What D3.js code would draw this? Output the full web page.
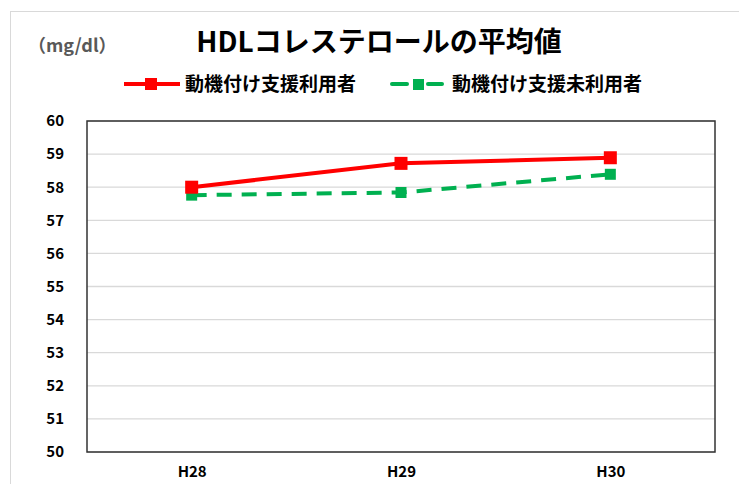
<!DOCTYPE html>
<html>
<head>
<meta charset="utf-8">
<script src="https://cdnjs.cloudflare.com/ajax/libs/d3/7.8.5/d3.min.js"></script>
<style>
  body { margin: 0; background: #fff; }
  text { font-family: "Noto Sans CJK JP", "Noto Sans", sans-serif; font-weight: bold; }
</style>
</head>
<body>
<div id="chart"></div>
<script>
// data
var years = ["H28", "H29", "H30"];
var usersValues = [58.0, 58.72, 58.89];
var nonUsersValues = [57.76, 57.84, 58.39];
var yTicks = [50, 51, 52, 53, 54, 55, 56, 57, 58, 59, 60];
var seriesNames = ["動機付け支援利用者", "動機付け支援未利用者"];

var svgWidth = 739;
var svgHeight = 484;

var margin = { top: 121, right: 24, bottom: 32, left: 87 };
var width = svgWidth - margin.left - margin.right;
var height = svgHeight - margin.top - margin.bottom;

var svg = d3.select("#chart")
  .append("svg")
  .attr("width", svgWidth)
  .attr("height", svgHeight);

// outer chart frame
svg.append("rect")
  .attr("x", 10.5).attr("y", 11.5)
  .attr("width", 760).attr("height", 500)
  .attr("fill", "none")
  .attr("stroke", "#d9d9d9");

var chartGroup = svg.append("g")
  .attr("transform", `translate(${margin.left}, ${margin.top})`);

var xScale = d3.scalePoint()
  .domain(years)
  .range([0, width])
  .padding(0.5);

var yScale = d3.scaleLinear()
  .domain([50, 60])
  .range([height, 0]);

// gridlines
chartGroup.append("g")
  .selectAll("line")
  .data(yTicks)
  .enter()
  .append("line")
  .attr("x1", 0).attr("x2", width)
  .attr("y1", d => yScale(d)).attr("y2", d => yScale(d))
  .attr("stroke", "#d9d9d9")
  .attr("stroke-width", 1.3);

// plot border
chartGroup.append("rect")
  .attr("width", width).attr("height", height)
  .attr("fill", "none")
  .attr("stroke", "#333")
  .attr("stroke-width", 1.5);

// axes
var leftAxis = d3.axisLeft(yScale).tickValues(yTicks).tickSize(0).tickPadding(23);
var bottomAxis = d3.axisBottom(xScale).tickSize(0).tickPadding(14);

var yAxisG = chartGroup.append("g").call(leftAxis);
yAxisG.select(".domain").remove();
yAxisG.selectAll("text")
  .attr("font-size", "15px")
  .attr("fill", "#000")
  .style("font-family", "'Noto Sans CJK JP', sans-serif");

var xAxisG = chartGroup.append("g")
  .attr("transform", `translate(0, ${height})`)
  .call(bottomAxis);
xAxisG.select(".domain").remove();
xAxisG.selectAll("text")
  .attr("font-size", "15px")
  .attr("fill", "#000")
  .style("font-family", "'Noto Sans CJK JP', sans-serif");

var line = d3.line()
  .x((d, i) => xScale(years[i]))
  .y(d => yScale(d));

// non-users (green dashed)
chartGroup.append("path")
  .datum(nonUsersValues)
  .attr("d", line)
  .attr("fill", "none")
  .attr("stroke", "#00b050")
  .attr("stroke-width", 4)
  .attr("stroke-dasharray", "15,10");

chartGroup.selectAll(".g-mark")
  .data(nonUsersValues)
  .enter()
  .append("rect")
  .attr("class", "g-mark")
  .attr("x", (d, i) => xScale(years[i]) - 5.5)
  .attr("y", d => yScale(d) - 5.5)
  .attr("width", 11).attr("height", 11)
  .attr("fill", "#00b050");

// users (red solid)
chartGroup.append("path")
  .datum(usersValues)
  .attr("d", line)
  .attr("fill", "none")
  .attr("stroke", "#ff0000")
  .attr("stroke-width", 4);

chartGroup.selectAll(".r-mark")
  .data(usersValues)
  .enter()
  .append("rect")
  .attr("class", "r-mark")
  .attr("x", (d, i) => xScale(years[i]) - 6.5)
  .attr("y", d => yScale(d) - 6.5)
  .attr("width", 13).attr("height", 13)
  .attr("fill", "#ff0000");

// title and unit
svg.append("text")
  .attr("x", 379).attr("y", 52)
  .attr("text-anchor", "middle")
  .attr("font-size", "28px")
  .attr("fill", "#000")
  .text("HDLコレステロールの平均値");

svg.append("text")
  .attr("x", 28).attr("y", 52)
  .attr("font-size", "18px")
  .attr("fill", "#595959")
  .text("（mg/dl）");

// legend
var legend = svg.append("g");
legend.append("line")
  .attr("x1", 124).attr("x2", 180).attr("y1", 84).attr("y2", 84)
  .attr("stroke", "#ff0000").attr("stroke-width", 4);
legend.append("rect")
  .attr("x", 145).attr("y", 78).attr("width", 12).attr("height", 12)
  .attr("fill", "#ff0000");
legend.append("text")
  .attr("x", 185).attr("y", 91)
  .attr("font-size", "19px")
  .text(seriesNames[0]);

legend.append("line")
  .attr("x1", 392).attr("x2", 442).attr("y1", 84).attr("y2", 84)
  .attr("stroke", "#00b050").attr("stroke-width", 4)
  .attr("stroke-linecap", "round")
  .attr("stroke-dasharray", "15,35");
legend.append("line")
  .attr("x1", 428).attr("x2", 442).attr("y1", 84).attr("y2", 84)
  .attr("stroke", "#00b050").attr("stroke-width", 4)
  .attr("stroke-linecap", "round");
legend.append("rect")
  .attr("x", 413).attr("y", 79).attr("width", 11).attr("height", 11)
  .attr("fill", "#00b050");
legend.append("text")
  .attr("x", 452).attr("y", 91)
  .attr("font-size", "19px")
  .text(seriesNames[1]);
</script>
</body>
</html>
